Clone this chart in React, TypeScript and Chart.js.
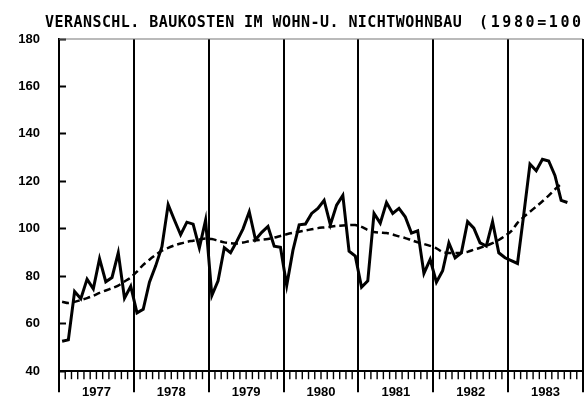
import { useEffect, useRef } from "react";
import { Chart, registerables } from "chart.js";

Chart.register(...registerables);

const TITLE_MAIN = "VERANSCHL. BAUKOSTEN IM WOHN-U. NICHTWOHNBAU";
const TITLE_BASE = "(1980=100)";
const YEARS = ["1977", "1978", "1979", "1980", "1981", "1982", "1983"];
const Y_MIN = 40;
const Y_MAX = 180;
const Y_STEP = 20;

// monthly index values (solid line)
const COST_1977 = [52.6, 53.2, 73.6, 70.5, 78.8, 74.7, 87.4, 77.7, 79.5, 89.9, 70.8, 75.8];
const COST_1978 = [64.6, 66.1, 77.5, 84.4, 92.5, 110.2, 103.7, 97.5, 102.8, 102, 92, 103.7];
const COST_1979 = [71.9, 78.1, 92, 89.9, 94.7, 100, 107.2, 95.4, 98.5, 101, 92.7, 92.2];
const COST_1980 = [76.1, 90.9, 101.7, 102, 106.5, 108.6, 112, 101.7, 110, 114.1, 90.6, 88.5];
const COST_1981 = [75.4, 78.1, 106.5, 102.4, 111.1, 106.5, 108.6, 105.1, 98.2, 99.2, 81.2, 87.1];
const COST_1982 = [77.5, 82.3, 94.1, 87.8, 89.9, 103, 100.3, 94.1, 92.7, 103, 89.9, 87.8];
const COST_1983 = [86.6, 85.4, 106, 127.3, 124.5, 129.3, 128.6, 122.5, 112, 111.1];

// trend (dashed line), monthly
const TREND = [
  69.3, 68.7, 69.2, 70, 70.8, 71.8, 73, 74, 75, 76.1, 77.8, 79.5,
  82, 84.8, 87, 89, 90.8, 92, 93, 93.8, 94.5, 95, 95.5, 95.9,
  95.7, 95, 94.3, 93.9, 93.8, 94.2, 94.8, 95.2, 95.4, 95.7, 96.3, 97,
  97.7, 98.3, 98.8, 99.3, 99.8, 100.3, 100.6, 100.9, 101.2, 101.4, 101.6, 101.6,
  100.8, 99.5, 98.7, 98.4, 98.2, 97.6, 96.8, 96.1, 95.2, 94.3, 93.6, 92.8,
  91.8, 90.2, 89.8, 89.8, 89.9, 90.3, 91.2, 92, 92.9, 94, 95.3, 97,
  99, 102.5, 105, 107.2, 109.4, 111.6, 114, 116.6, 119,
];

const COST = [
  ...COST_1977, ...COST_1978, ...COST_1979, ...COST_1980,
  ...COST_1981, ...COST_1982, ...COST_1983,
];

const frame = {
  id: "frame",
  afterDraw(chart: any) {
    const { ctx, chartArea, scales } = chart;
    const xs = scales.x;
    ctx.save();
    // title
    ctx.fillStyle = "#000";
    ctx.font = 'bold 15px "DejaVu Sans Mono", monospace';
    ctx.textBaseline = "alphabetic";
    ctx.textAlign = "left";
    (ctx as any).letterSpacing = "0.45px";
    ctx.fillText(TITLE_MAIN, 45, 27);
    (ctx as any).letterSpacing = "2.6px";
    ctx.fillText(TITLE_BASE, 479, 27);
    (ctx as any).letterSpacing = "0px";
    // top border (faded)
    ctx.strokeStyle = "#777";
    ctx.lineWidth = 1.2;
    ctx.beginPath();
    ctx.moveTo(chartArea.left, chartArea.top);
    ctx.lineTo(chartArea.right, chartArea.top);
    ctx.stroke();
    // right border
    ctx.strokeStyle = "#000";
    ctx.lineWidth = 2;
    ctx.beginPath();
    ctx.moveTo(chartArea.right, chartArea.top);
    ctx.lineTo(chartArea.right, chartArea.bottom);
    ctx.stroke();
    // month ticks
    ctx.lineWidth = 1.4;
    for (let m = 1; m < YEARS.length * 12; m++) {
      if (m % 12 === 0) continue;
      const px = xs.getPixelForValue(m);
      ctx.beginPath();
      ctx.moveTo(px, chartArea.bottom);
      ctx.lineTo(px, chartArea.bottom + 8);
      ctx.stroke();
    }
    ctx.restore();
  },
};

export default function App() {
  const ref = useRef<HTMLCanvasElement | null>(null);
  useEffect(() => {
    if (!ref.current) return;
    const tickFont = { family: '"Liberation Sans Narrow", "Liberation Sans", sans-serif', size: 13, weight: "bold" as const };
    const chart = new Chart(ref.current, {
      type: "line",
      data: {
        datasets: [
          {
            label: "Baukosten",
            data: COST.map((v, i) => ({ x: i + 0.5, y: v })),
            borderColor: "#000",
            borderWidth: 3,
            pointRadius: 0,
            tension: 0,
            fill: false,
          },
          {
            label: "Trend",
            data: TREND.map((v, i) => ({ x: i + 0.5, y: v })),
            borderColor: "#000",
            borderWidth: 2.5,
            borderDash: [7, 4],
            pointRadius: 0,
            tension: 0.3,
            fill: false,
          },
        ],
      },
      options: {
        animation: false,
        responsive: false,
        layout: { padding: { top: 39, right: 1, left: 0, bottom: 0 } },
        plugins: { legend: { display: false }, tooltip: { enabled: false }, title: { display: false } },
        scales: {
          x: {
            type: "linear",
            min: 0,
            max: YEARS.length * 12,
            afterBuildTicks: (scale: any) => {
              const t = [];
              for (let v = 0; v <= YEARS.length * 12; v += 6) t.push({ value: v });
              scale.ticks = t;
            },
            afterFit: (scale: any) => {
              scale.height = 25;
            },
            ticks: {
              autoSkip: false,
              maxRotation: 0,
              padding: -8,
              color: "#000",
              font: tickFont,
              callback: (v: any) => (v % 12 === 6 ? YEARS[(v - 6) / 12] : ""),
            },
            grid: {
              color: (c: any) => (c.tick && c.tick.value % 12 === 0 ? "#000" : "rgba(0,0,0,0)"),
              tickColor: (c: any) => (c.tick && c.tick.value % 12 === 0 ? "#000" : "rgba(0,0,0,0)"),
              lineWidth: 2,
              tickWidth: 2,
              tickLength: 21,
              drawOnChartArea: true,
            },
            border: { display: true, color: "#000", width: 2 },
          },
          y: {
            min: Y_MIN,
            max: Y_MAX,
            afterFit: (scale: any) => {
              scale.width = 59;
            },
            ticks: { stepSize: Y_STEP, padding: 26, color: "#000", font: tickFont },
            grid: { drawOnChartArea: false, tickLength: -7, tickWidth: 2, tickColor: "#000" },
            border: { display: true, color: "#000", width: 2 },
          },
        },
      },
      plugins: [frame],
    });
    return () => chart.destroy();
  }, []);
  return (
    <div style={{ position: "absolute", left: 0, top: 0, width: 584, height: 405 }}>
      <canvas ref={ref} width={584} height={405} style={{ width: 584, height: 405, display: "block" }} />
    </div>
  );
}
